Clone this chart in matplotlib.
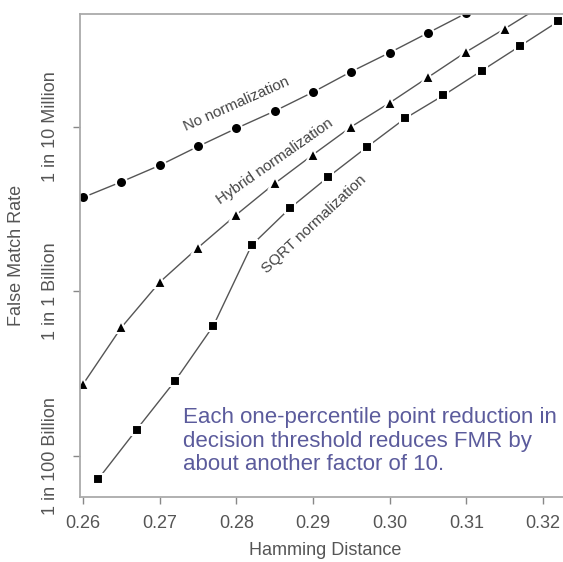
import numpy as np
import matplotlib.pyplot as plt

# Hamming distance thresholds
hd_none = [0.260, 0.265, 0.270, 0.275, 0.280, 0.285, 0.290, 0.295, 0.300, 0.305, 0.310]
hd_hybrid = [0.260, 0.265, 0.270, 0.275, 0.280, 0.285, 0.290, 0.295, 0.300, 0.305, 0.310, 0.315, 0.320]
hd_sqrt = [0.262, 0.267, 0.272, 0.277, 0.282, 0.287, 0.292, 0.297, 0.302, 0.307, 0.312, 0.317, 0.322]

# log10 of false match rate
log_fmr_none = [-7.86, -7.67, -7.47, -7.24, -7.02, -6.81, -6.58, -6.33, -6.10, -5.86, -5.62]
log_fmr_hybrid = [-10.13, -9.44, -8.89, -8.47, -8.07, -7.69, -7.34, -7.00, -6.71, -6.40, -6.09, -5.81, -5.52]
log_fmr_sqrt = [-11.28, -10.68, -10.09, -9.42, -8.44, -7.99, -7.61, -7.25, -6.90, -6.62, -6.32, -6.02, -5.72]

x_ticks = [0.26, 0.27, 0.28, 0.29, 0.30, 0.31, 0.32]
y_ticks = [1e-7, 1e-9, 1e-11]
y_tick_labels = ["1 in 10 Million", "1 in 1 Billion", "1 in 100 Billion"]

plt.rcParams['font.family'] = ['Liberation Sans', 'DejaVu Sans']

fig = plt.figure(figsize=(5.63, 5.62), dpi=100)
ax = fig.add_axes([0.142, 0.1157, 0.87, 0.8594])

line_kw = dict(color='#555555', lw=1.0, mfc='black', mec='white', mew=1.5, clip_on=True)
ax.plot(hd_none, 10.0 ** np.array(log_fmr_none), marker='o', ms=8, **line_kw)
ax.plot(hd_hybrid, 10.0 ** np.array(log_fmr_hybrid), marker='^', ms=8.5, **line_kw)
ax.plot(hd_sqrt, 10.0 ** np.array(log_fmr_sqrt), marker='s', ms=7.2, **line_kw)

ax.set_yscale('log')
ax.set_xlim(0.2596, 0.3235)
ax.set_ylim(10 ** -11.5, 10 ** -5.63)

ax.set_xticks(x_ticks)
ax.set_xticklabels([f"{t:.2f}" for t in x_ticks])
ax.set_yticks(y_ticks)
ax.set_yticklabels(y_tick_labels, rotation=90, va='center')
ax.minorticks_off()
ax.tick_params(colors='#888888', labelcolor='#555555', labelsize=13, length=5, width=1)
ax.tick_params(axis='x', pad=8)
ax.tick_params(axis='y', pad=10)

for side in ['left', 'bottom', 'top', 'right']:
    ax.spines[side].set_color('#aaaaaa')
    ax.spines[side].set_linewidth(1.3)

ax.set_xlabel("Hamming Distance", fontsize=13, color='#555555', labelpad=7)
ax.set_ylabel("False Match Rate", fontsize=13, color='#555555', labelpad=12)

# curve labels
ax.text(0.2800, 10 ** -6.73, "No normalization", rotation=24, fontsize=11, color='#444444',
        ha='center', va='center')
ax.text(0.2850, 10 ** -7.42, "Hybrid normalization", rotation=35, fontsize=11, color='#444444',
        ha='center', va='center')
ax.text(0.2901, 10 ** -8.19, "SQRT normalization", rotation=43, fontsize=11, color='#444444',
        ha='center', va='center')

ax.text(0.2730, 10 ** -10.82,
        "Each one-percentile point reduction in\n"
        "decision threshold reduces FMR by\n"
        "about another factor of 10.",
        fontsize=16, color='#5b5b9c', ha='left', va='center', linespacing=1.15)

plt.savefig('out.png', dpi=100)
